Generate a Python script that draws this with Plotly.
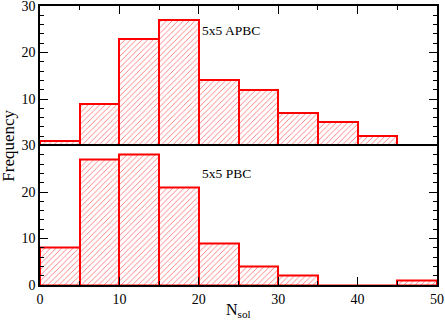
import plotly.graph_objects as go
from plotly.subplots import make_subplots

bin_left = [0, 5, 10, 15, 20, 25, 30, 35, 40, 45]
apbc_counts = [1, 9, 23, 27, 14, 12, 7, 5, 2, 0]
pbc_counts = [8, 27, 28, 21, 9, 4, 2, 0, 0, 1]
bin_width = 5

fig = make_subplots(rows=2, cols=1, shared_xaxes=True, vertical_spacing=0)

bar_style = dict(
    width=bin_width,
    offset=0,
    marker=dict(
        color='white',
        line=dict(color='#ff0000', width=2),
        pattern=dict(shape='/', fgcolor='#ff0000', fgopacity=0.55, bgcolor='white', size=4, solidity=0.22),
    ),
    showlegend=False,
)
fig.add_trace(go.Bar(x=bin_left, y=apbc_counts, **bar_style), row=1, col=1)
fig.add_trace(go.Bar(x=bin_left, y=pbc_counts, **bar_style), row=2, col=1)

font = dict(family='Liberation Serif', size=14, color='black')
label_font = dict(family='Liberation Serif', size=13.5, color='black')

axis_common = dict(showline=True, linecolor='black', linewidth=1.5, mirror=True,
                   showgrid=False, zeroline=False, ticks='inside', tickcolor='black',
                   tickwidth=1, ticklen=8, automargin=False)

fig.update_xaxes(range=[0, 50], dtick=10, **axis_common,
                 minor=dict(dtick=5, ticks='inside', ticklen=4, tickcolor='black'))
fig.update_xaxes(side='top', showticklabels=False, mirror=False, row=1, col=1)
fig.update_yaxes(range=[0, 30], ticklabeloverflow='allow', **axis_common,
                 minor=dict(dtick=2, ticks='inside', ticklen=4, tickcolor='black'))
fig.update_yaxes(mirror='ticks')
fig.update_yaxes(tickvals=[10, 20, 30], row=1, col=1)
fig.update_yaxes(tickvals=[0, 10, 20, 30], row=2, col=1)

fig.add_annotation(text='5x5 APBC', x=20.2, y=24.8, xanchor='left', showarrow=False,
                   font=label_font, row=1, col=1)
fig.add_annotation(text='5x5 PBC', x=20.1, y=24, xanchor='left', showarrow=False,
                   font=label_font, row=2, col=1)
fig.add_annotation(text='Frequency', x=-0.08, y=0.5, xref='paper', yref='paper',
                   xanchor='center', yanchor='middle',
                   textangle=-90, showarrow=False, font=dict(family='Liberation Serif', size=17))
fig.add_annotation(text='N<sub>sol</sub>', x=0.5, y=0, xref='paper', yref='paper',
                   yanchor='top', yshift=-14, showarrow=False,
                   font=dict(family='Liberation Serif', size=16))

fig.update_layout(width=445, height=322, margin=dict(l=40, r=8, t=6, b=37),
                  paper_bgcolor='white', plot_bgcolor='white', font=font, bargap=0)
fig.write_html('out.html', config={'displayModeBar': False},
               post_script="document.body.style.margin='0';")
